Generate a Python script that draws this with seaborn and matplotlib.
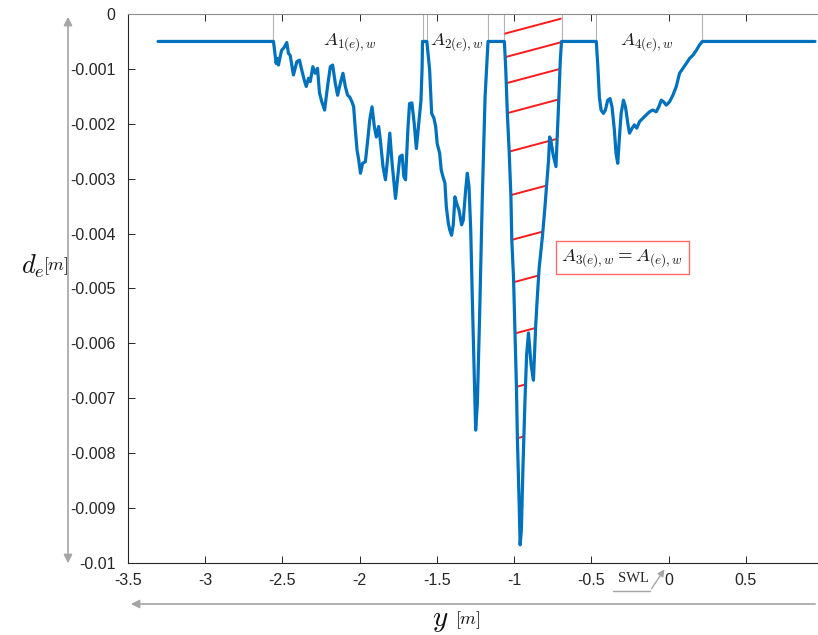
import matplotlib
matplotlib.use("Agg")
import matplotlib.pyplot as plt
from matplotlib.patches import Polygon, FancyArrowPatch
from matplotlib.ticker import MultipleLocator, FuncFormatter
import seaborn as sns
import numpy as np
import pandas as pd


sns.set_theme(style="white")
plt.rcParams['font.family'] = ['Liberation Sans', 'DejaVu Sans']
plt.rcParams['mathtext.fontset'] = 'cm'
plt.rcParams['axes.unicode_minus'] = False

# cross-shore position y [m] and erosion depth d_e [mm]
y_pos = [
    -3.305, -2.558, -2.541, -2.532, -2.526, -2.515, -2.505, -2.489, -2.472, -2.461,
    -2.450, -2.429, -2.407, -2.390, -2.375, -2.359, -2.346, -2.331, -2.320, -2.303,
    -2.288, -2.273, -2.260, -2.245, -2.227, -2.208, -2.190, -2.175, -2.158, -2.143,
    -2.125, -2.108, -2.093, -2.078, -2.065, -2.050, -2.039, -2.028, -2.017, -2.006,
    -1.995, -1.981, -1.963, -1.948, -1.935, -1.920, -1.905, -1.892, -1.877, -1.866,
    -1.849, -1.833, -1.818, -1.805, -1.790, -1.768, -1.753, -1.740, -1.725, -1.714,
    -1.703, -1.688, -1.677, -1.662, -1.647, -1.633, -1.617, -1.603, -1.596, -1.593,
    -1.565, -1.547, -1.534, -1.519, -1.508, -1.498, -1.482, -1.472, -1.461, -1.448,
    -1.439, -1.426, -1.417, -1.405, -1.394, -1.383, -1.372, -1.357, -1.340, -1.329,
    -1.314, -1.303, -1.292, -1.281, -1.271, -1.260, -1.249, -1.238, -1.223, -1.206,
    -1.188, -1.169, -1.063, -1.054, -1.044, -1.032, -1.021, -1.015, -1.004, -0.994,
    -0.985, -0.979, -0.968, -0.961, -0.953, -0.942, -0.929, -0.919, -0.907, -0.890,
    -0.875, -0.868, -0.860, -0.851, -0.838, -0.816, -0.802, -0.789, -0.777, -0.770,
    -0.762, -0.747, -0.729, -0.719, -0.711, -0.701, -0.693, -0.468, -0.459, -0.448,
    -0.437, -0.422, -0.409, -0.394, -0.379, -0.366, -0.351, -0.340, -0.329, -0.318,
    -0.307, -0.292, -0.279, -0.264, -0.253, -0.236, -0.221, -0.206, -0.188, -0.167,
    -0.145, -0.123, -0.102, -0.080, -0.063, -0.047, -0.032, -0.015, 0.006, 0.028,
    0.050, 0.071, 0.093, 0.115, 0.136, 0.158, 0.180, 0.201, 0.219, 0.948,
]
de_mm = [
    -0.50, -0.50, -0.90, -0.81, -0.93, -0.78, -0.66, -0.61, -0.52, -0.72,
    -0.75, -1.11, -0.87, -0.84, -1.02, -1.20, -1.32, -1.17, -1.23, -0.96,
    -1.08, -0.99, -1.44, -1.60, -1.75, -1.32, -0.96, -0.93, -1.26, -1.48,
    -1.26, -1.08, -1.32, -1.48, -1.51, -1.60, -1.69, -2.11, -2.48, -2.66,
    -2.90, -2.72, -2.69, -2.30, -1.93, -1.69, -2.05, -2.24, -2.05, -2.30,
    -2.78, -3.02, -2.60, -2.17, -2.72, -3.36, -2.96, -2.60, -2.57, -2.96,
    -3.02, -2.11, -1.63, -1.62, -1.99, -2.45, -1.99, -1.57, -1.00, -0.50,
    -0.50, -1.02, -1.81, -1.90, -2.05, -2.36, -2.54, -2.84, -2.96, -3.08,
    -3.51, -3.81, -3.93, -4.03, -3.84, -3.33, -3.45, -3.57, -3.84, -3.75,
    -3.21, -2.90, -3.15, -3.93, -5.15, -6.36, -7.58, -7.09, -5.45, -3.33,
    -1.51, -0.50, -0.50, -1.02, -1.80, -2.51, -3.30, -4.12, -4.79, -5.81,
    -6.79, -7.72, -8.85, -9.67, -9.40, -8.18, -6.98, -6.21, -5.81, -6.39,
    -6.67, -6.21, -5.66, -5.21, -4.63, -4.03, -3.57, -3.11, -2.66, -2.24,
    -2.30, -2.57, -2.78, -2.11, -1.57, -0.84, -0.50, -0.50, -0.90, -1.51,
    -1.75, -1.81, -1.75, -1.57, -1.54, -1.69, -2.11, -2.54, -2.72, -2.24,
    -1.81, -1.57, -1.69, -1.99, -2.17, -2.08, -2.02, -2.08, -1.96, -1.90,
    -1.84, -1.78, -1.75, -1.78, -1.69, -1.57, -1.60, -1.66, -1.60, -1.48,
    -1.32, -1.08, -0.99, -0.90, -0.81, -0.75, -0.66, -0.56, -0.50, -0.50,
]

# area boundaries (thin grey markers at the top)
bounds = [-2.558, -1.593, -1.565, -1.169, -1.063, -0.693, -0.468, 0.219]
area_labels = [r'$A_{1(e),w}$', r'$A_{2(e),w}$', r'$A_{4(e),w}$']
area_label_x = [-2.06, -1.368, -0.140]

# hatched area A3 and its hatch lines (value at the left bound, in mm)
a3_left, a3_right = -1.063, -0.693
hatch_y0_mm = [-0.36, -0.79, -1.27, -1.82, -2.53, -3.33, -4.15, -4.93, -5.87, -6.85, -7.79, -8.93]
hatch_slope_mm = 0.75

df = pd.DataFrame({'y': y_pos, 'de': np.array(de_mm) * 1e-3})

W, H = 818, 635
fig = plt.figure(figsize=(W / 100, H / 100), dpi=100)
ax = fig.add_axes([128 / W, (H - 563) / H, (W - 128) / W, (563 - 14) / H])


def P(x, y):
    return (x / W, 1 - y / H)


sns.lineplot(data=df, x='y', y='de', ax=ax, sort=False, estimator=None,
             color='#0072BD', lw=2.3, zorder=3)

for b in bounds:
    ax.plot([b, b], [0, -0.0005], color='#b3b3b3', lw=0.8, zorder=2)

for lab, lx in zip(area_labels, area_label_x):
    ax.text(lx, -0.00052, lab, ha='center', va='center', fontsize=13.5, color='#1a1a1a')

# hatch lines clipped to the A3 region
seg = df[(df['y'] >= a3_left) & (df['y'] <= a3_right)]
verts = list(zip(seg['y'], seg['de'])) + [(a3_right, 0.0), (a3_left, 0.0)]
clip = Polygon(verts, closed=True, facecolor='none', edgecolor='none', transform=ax.transData)
ax.add_patch(clip)
hx = np.array([a3_left, a3_right])
for y0 in hatch_y0_mm:
    hy = (y0 + hatch_slope_mm * (hx - a3_left)) * 1e-3
    ln, = ax.plot(hx, hy, color='#ff1a1a', lw=1.4, zorder=2)
    ln.set_clip_path(clip)

ax.text(-0.30, -0.00444, r'$A_{3(e),w}=A_{(e),w}$', ha='center', va='center', fontsize=13.5,
        color='#1a1a1a',
        bbox=dict(boxstyle='square,pad=0.3', fc='white', ec='#ff6b6b', lw=1))

ax.set_xlim(-3.5, (W - 669) / 154)
ax.set_ylim(-0.01, 0)
ax.xaxis.set_major_locator(MultipleLocator(0.5))
ax.yaxis.set_major_locator(MultipleLocator(0.001))
ax.xaxis.set_major_formatter(FuncFormatter(lambda v, p: '%g' % round(v, 4)))
ax.yaxis.set_major_formatter(FuncFormatter(lambda v, p: '%g' % round(v, 6)))
ax.tick_params(axis='both', direction='in', length=5, width=0.7, colors='#262626',
               labelsize=11.5, top=True, bottom=True, left=True, right=False)
ax.tick_params(axis='y', pad=9)
ax.tick_params(axis='x', pad=7)
ax.set_xlabel('')
ax.set_ylabel('')
for s in ['left', 'bottom', 'top']:
    ax.spines[s].set_color('#262626')
    ax.spines[s].set_linewidth(0.8)
ax.spines['top'].set_color('#8c8c8c')
ax.spines['right'].set_visible(False)

# axis labels with grey arrows
fig.text(*P(33, 266), r'$d_e$', fontsize=19, ha='center', va='center', color='#111111')
fig.text(*P(56, 266), r'$[m]$', fontsize=13, ha='center', va='center', color='#111111')
fig.add_artist(FancyArrowPatch(P(68, 14), P(68, 566), transform=fig.transFigure,
                               arrowstyle='<|-|>,head_length=5,head_width=2.5',
                               color='#a6a6a6', lw=1.2))
fig.text(*P(440, 620), r'$y$', fontsize=21, ha='center', va='center', color='#111111')
fig.text(*P(468, 620), r'$[m]$', fontsize=13, ha='center', va='center', color='#111111')
fig.add_artist(FancyArrowPatch(P(818, 604), P(128, 604), transform=fig.transFigure,
                               arrowstyle='-|>,head_length=5,head_width=2.5',
                               color='#a6a6a6', lw=1.2))

# still water line marker
fig.text(*P(633, 578), 'SWL', fontsize=10.5, ha='center', va='center',
         family=['Liberation Serif', 'DejaVu Serif'], color='#262626')
fig.add_artist(plt.Line2D([613 / W, 650 / W], [1 - 591 / H, 1 - 591 / H],
                          transform=fig.transFigure, color='#a6a6a6', lw=1))
fig.add_artist(FancyArrowPatch(P(650, 591), P(666, 567), transform=fig.transFigure,
                               arrowstyle='-|>,head_length=4,head_width=2',
                               color='#a6a6a6', lw=1))

plt.savefig('out.png', dpi=100)
plt.close()
